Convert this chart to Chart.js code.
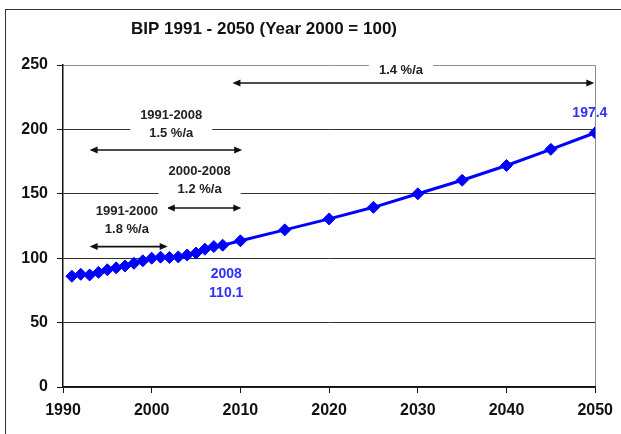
<!DOCTYPE html>
<html>
<head>
<meta charset="utf-8">
<script src="https://cdn.jsdelivr.net/npm/chart.js@4"></script>
<style>
    body { margin: 0; background: #fff; overflow: hidden; }
    #wrap { position: relative; width: 621px; height: 434px; }
    #frame { position: absolute; left: 5px; top: 9px; width: 700px; height: 500px; border: 1.5px solid #333; }
    canvas { position: absolute; left: 0; top: 0; }
</style>
</head>
<body>
<div id="wrap">
    <div id="frame"></div>
    <canvas id="bipChart" width="621" height="434"></canvas>
</div>
<script>
// Years and BIP index (Year 2000 = 100)
const years = [1991, 1992, 1993, 1994, 1995, 1996, 1997, 1998, 1999, 2000,
    2001, 2002, 2003, 2004, 2005, 2006, 2007, 2008,
    2010, 2015, 2020, 2025, 2030, 2035, 2040, 2045, 2050];
const bip = [86.0, 87.5, 87.0, 89.0, 91.0, 92.5, 94.0, 96.0, 98.0, 100.0,
    100.8, 100.5, 101.0, 102.5, 104.0, 107.0, 109.0, 110.1,
    113.5, 122.0, 130.5, 139.5, 150.0, 160.5, 172.0, 184.5, 197.4];

const xTickStep = 10;
const yTickStep = 50;

// Growth-rate annotations: arrow span (years) at a y level, label lines above
const rateNotes = [
    { from: 1993, to: 2010.2, at: 184, lines: ['1991-2008', '1.5 %/a'], cx: 2002.2, ly: [211, 197] },
    { from: 2001.7, to: 2010.1, at: 139, lines: ['2000-2008', '1.2 %/a'], cx: 2005.4, ly: [167.5, 153.5] },
    { from: 1993, to: 2001.8, at: 109, lines: ['1991-2000', '1.8 %/a'], cx: 1997.2, ly: [136, 122] },
    { from: 2009.1, to: 2049.9, at: 236, lines: ['1.4 %/a'], cx: 2028.1, ly: [245.5] }
];

// Blue value labels
const valueNotes = [
    { cx: 2049.4, ly: [212.5], lines: ['197.4'] },
    { cx: 2008.4, ly: [88, 72.5], lines: ['2008', '110.1'] }
];

const TITLE = 'BIP 1991 - 2050 (Year 2000 = 100)';
const FONT = '"Liberation Sans", Arial, sans-serif';

function arrow(ctx, x1, x2, y) {
    const head = 8, half = 3.5;
    ctx.beginPath();
    ctx.moveTo(x1 + head - 1, y);
    ctx.lineTo(x2 - head + 1, y);
    ctx.stroke();
    ctx.beginPath();
    ctx.moveTo(x1, y);
    ctx.lineTo(x1 + head, y - half);
    ctx.lineTo(x1 + head, y + half);
    ctx.closePath();
    ctx.fill();
    ctx.beginPath();
    ctx.moveTo(x2, y);
    ctx.lineTo(x2 - head, y - half);
    ctx.lineTo(x2 - head, y + half);
    ctx.closePath();
    ctx.fill();
}

const notesPlugin = {
    id: 'notes',
    beforeDatasetsDraw(chart) {
        const ctx = chart.ctx;
        const xs = chart.scales.x, ys = chart.scales.y;
        ctx.save();
        ctx.font = 'bold 13px ' + FONT;
        ctx.textAlign = 'center';
        ctx.textBaseline = 'middle';
        rateNotes.forEach(n => {
            const cx = xs.getPixelForValue(n.cx);
            // white box behind the label hides the gridline
            let w = 0;
            n.lines.forEach(t => { w = Math.max(w, ctx.measureText(t).width); });
            const yTop = ys.getPixelForValue(n.ly[0]) - 9;
            const yBot = ys.getPixelForValue(n.ly[n.ly.length - 1]) + 9;
            ctx.fillStyle = '#fff';
            ctx.fillRect(cx - w / 2 - 10, yTop, w + 20, yBot - yTop);
            ctx.fillStyle = '#222';
            n.lines.forEach((t, i) => ctx.fillText(t, cx, ys.getPixelForValue(n.ly[i])));
            ctx.strokeStyle = '#111';
            ctx.fillStyle = '#111';
            ctx.lineWidth = 1.6;
            arrow(ctx, xs.getPixelForValue(n.from), xs.getPixelForValue(n.to), ys.getPixelForValue(n.at));
        });
        ctx.restore();
    },
    afterDraw(chart) {
        const ctx = chart.ctx;
        const xs = chart.scales.x, ys = chart.scales.y;
        ctx.save();
        ctx.textAlign = 'center';
        ctx.textBaseline = 'middle';
        ctx.font = 'bold 14px ' + FONT;
        ctx.fillStyle = '#2f2fff';
        valueNotes.forEach(n => {
            const cx = xs.getPixelForValue(n.cx);
            n.lines.forEach((t, i) => ctx.fillText(t, cx, ys.getPixelForValue(n.ly[i])));
        });
        ctx.font = 'bold 17px ' + FONT;
        ctx.fillStyle = '#111';
        ctx.fillText(TITLE, 264, 29);
        ctx.restore();
    }
};

const ctx = document.getElementById('bipChart').getContext('2d');
new Chart(ctx, {
    type: 'line',
    data: {
        datasets: [{
            label: 'BIP',
            data: years.map((yr, i) => ({ x: yr, y: bip[i] })),
            borderColor: '#0000ff',
            backgroundColor: '#0000ff',
            borderWidth: 3,
            pointStyle: 'rectRot',
            pointRadius: 6,
            pointBorderWidth: 1,
            tension: 0
        }]
    },
    options: {
        responsive: false,
        animation: false,
        layout: { padding: { top: 65, right: 24, left: 0, bottom: 0 } },
        plugins: {
            legend: { display: false },
            title: { display: false },
            tooltip: { enabled: false }
        },
        scales: {
            x: {
                type: 'linear',
                min: 1990,
                max: 2050,
                afterFit: s => { s.height = 47; },
                ticks: {
                    stepSize: xTickStep,
                    color: '#111',
                    padding: 8,
                    callback: v => String(v),
                    font: { family: FONT, size: 16, weight: 'bold' }
                },
                grid: {
                    color: c => (c.tick && c.tick.value === 2050) ? '#909090' : 'rgba(0,0,0,0)',
                    tickColor: '#111',
                    tickLength: 6,
                    lineWidth: 1
                },
                border: { color: '#111', width: 1.5 }
            },
            y: {
                min: 0,
                max: 250,
                afterFit: s => { s.width = 63; },
                ticks: {
                    stepSize: yTickStep,
                    color: '#111',
                    padding: 9,
                    font: { family: FONT, size: 16, weight: 'bold' }
                },
                grid: {
                    color: c => (c.tick && c.tick.value === 250) ? '#909090' : '#303030',
                    tickColor: '#111',
                    tickLength: 6,
                    lineWidth: 1
                },
                border: { color: '#111', width: 1.5 }
            }
        }
    },
    plugins: [notesPlugin]
});
</script>
</body>
</html>
